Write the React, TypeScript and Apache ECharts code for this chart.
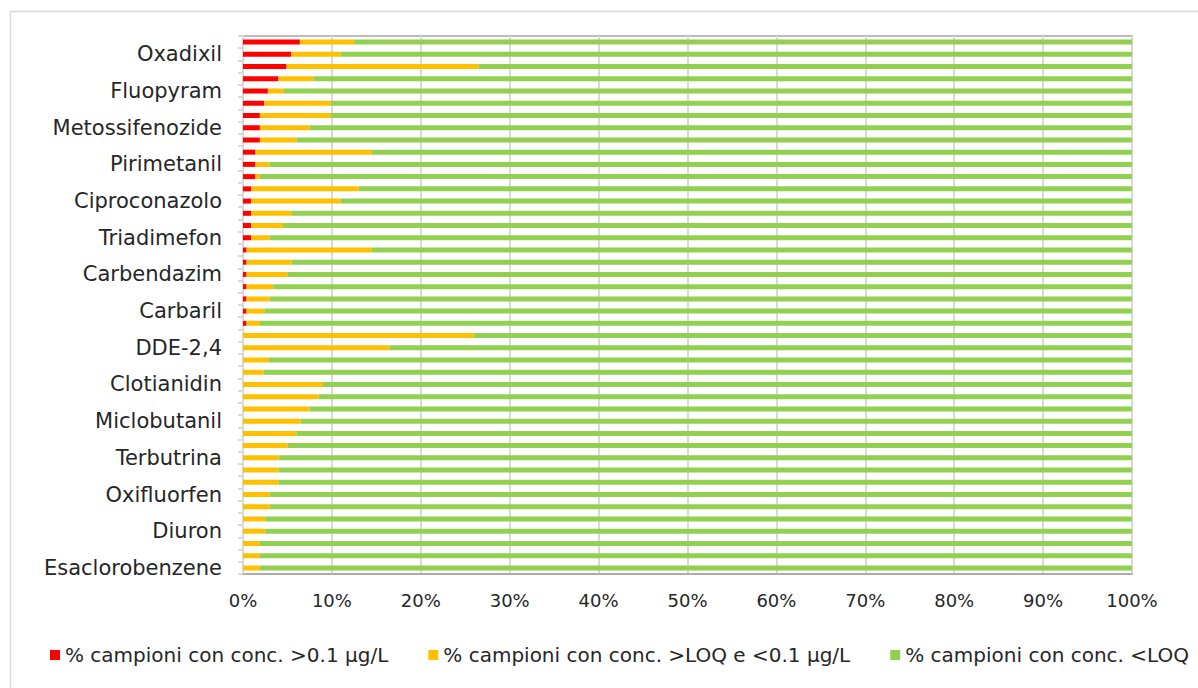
import React, { useEffect, useRef } from "react";
import * as echarts from "echarts";

// Categories listed from top to bottom (only every third one is labelled)
const categories: string[] = [
  "Boscalid", "Oxadixil", "Metalaxil", "Dimetomorf", "Fluopyram", "Azoxistrobina",
  "Tebuconazolo", "Metossifenozide", "Propiconazolo", "Imidacloprid", "Pirimetanil",
  "Ciprodinil", "Metolaclor", "Ciproconazolo", "Penconazolo", "Fludioxonil",
  "Triadimefon", "Acetamiprid", "Tiametoxam", "Carbendazim", "Pirimicarb",
  "Clorpirifos", "Carbaril", "Terbutilazina", "Desetil-terbutilazina", "DDE-2,4",
  "DDE-4,4", "DDT-4,4", "Clotianidin", "Tiacloprid", "Spiroxamina", "Miclobutanil",
  "Procimidone", "Iprodione", "Terbutrina", "Simazina", "Atrazina", "Oxifluorfen",
  "Linuron", "Oxadiazon", "Diuron", "Lindano", "Dieldrin", "Esaclorobenzene",
];

// % campioni con conc. >0.1 µg/L
const above01: number[] = [
  6.4, 5.4, 4.9, 4.0, 2.8, 2.4, 1.9, 1.9, 1.9, 1.4, 1.4, 1.4,
  0.9, 0.9, 0.9, 0.9, 0.9, 0.4, 0.4, 0.4, 0.4, 0.4, 0.4, 0.4,
  0, 0, 0, 0, 0, 0, 0, 0, 0, 0, 0, 0, 0, 0, 0, 0, 0, 0, 0, 0,
];

// % campioni con conc. >LOQ e <0.1 µg/L
const loqTo01: number[] = [
  6.1, 5.6, 21.6, 3.9, 1.8, 7.5, 8.0, 5.6, 4.1, 13.1, 1.6, 0.5,
  12.1, 10.1, 4.6, 3.6, 2.1, 14.1, 5.1, 4.6, 3.0, 2.6, 2.0, 1.5,
  26.0, 16.5, 2.9, 2.3, 9.0, 8.5, 7.5, 6.5, 6.0, 5.0, 4.0, 4.0,
  4.0, 3.0, 3.0, 2.5, 2.5, 1.9, 1.9, 1.9,
];

// % campioni con conc. <LOQ
const belowLoq: number[] = categories.map((_, i) =>
  Math.round((100 - above01[i] - loqTo01[i]) * 10) / 10
);

const xTicks = { min: 0, max: 100, interval: 10 };

const seriesNames = [
  "% campioni con conc. >0.1 µg/L",
  "% campioni con conc. >LOQ e <0.1 µg/L",
  "% campioni con conc. <LOQ",
];
const seriesColors = ["#ff0000", "#ffc000", "#92d050"];

const FONT = "DejaVu Sans";

export default function App() {
  const ref = useRef<HTMLDivElement>(null);

  useEffect(() => {
    document.body.style.margin = "0";
    if (!ref.current) return;
    const chart = echarts.init(ref.current, null, { renderer: "svg" });
    const values = [above01, loqTo01, belowLoq];
    chart.setOption({
      animation: false,
      backgroundColor: "#ffffff",
      textStyle: { fontFamily: FONT },
      graphic: [
        {
          type: "rect",
          shape: { x: 10.5, y: 11.5, width: 1220, height: 720 },
          style: { fill: "none", stroke: "#d9d9d9", lineWidth: 1.5 },
          silent: true,
        },
      ],
      grid: {
        left: 243,
        right: 66,
        top: 36,
        bottom: 114,
        show: true,
        borderColor: "#a6a6a6",
        borderWidth: 1.5,
      },
      legend: {
        left: 45,
        top: 640,
        icon: "rect",
        itemWidth: 10,
        itemHeight: 10,
        itemGap: 40,
        textStyle: { fontFamily: FONT, fontSize: 20, color: "#262626" },
        data: seriesNames,
      },
      xAxis: {
        type: "value",
        min: xTicks.min,
        max: xTicks.max,
        interval: xTicks.interval,
        axisLabel: {
          formatter: "{value}%",
          fontFamily: FONT,
          fontSize: 18,
          color: "#262626",
          margin: 17,
        },
        axisLine: { show: true, lineStyle: { color: "#a6a6a6", width: 1.5 } },
        axisTick: { show: false },
        splitLine: { show: true, lineStyle: { color: "#d9d9d9", width: 2 } },
      },
      yAxis: {
        type: "category",
        inverse: true,
        data: categories,
        axisLabel: {
          interval: (index: number) => index % 3 === 1,
          fontFamily: FONT,
          fontSize: 21,
          color: "#262626",
          margin: 21,
        },
        axisLine: { show: true, lineStyle: { color: "#d9d9d9", width: 2 } },
        axisTick: {
          show: true,
          interval: 0,
          length: 5,
          lineStyle: { color: "#d9d9d9", width: 2 },
        },
        splitLine: { show: false },
      },
      series: seriesNames.map((name, k) => ({
        name,
        type: "bar",
        stack: "total",
        barWidth: 5,
        itemStyle: { color: seriesColors[k] },
        data: values[k],
      })),
    });
    return () => chart.dispose();
  }, []);

  return <div ref={ref} style={{ width: 1198, height: 688 }} />;
}
